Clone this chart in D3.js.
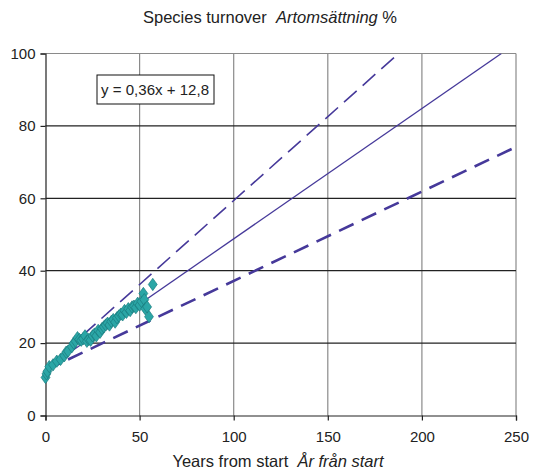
<!DOCTYPE html>
<html>
<head>
<meta charset="utf-8">
<script src="https://cdn.jsdelivr.net/npm/d3@7"></script>
<style>
  body { margin: 0; background: #fff; }
  text { font-family: "Liberation Sans", Arial, sans-serif; fill: #222; white-space: pre; }
</style>
</head>
<body>
<div id="chart"></div>
<script>
// observed points: years from start vs species turnover (%)
var years = [0, 0.5, 1, 2, 4, 6, 8, 10, 11, 12, 14, 15, 16, 17, 18, 19, 20, 21, 22, 23, 24, 25,
  26, 27, 28, 29, 30, 31, 32, 33, 34, 35, 36, 37, 38, 39, 40, 41, 42, 43, 44, 45, 46, 47, 48,
  49, 50, 51, 52, 52.5, 53, 54, 55, 57];
var turnover = [10.5, 11.5, 12.2, 13.5, 14, 15, 15.5, 16.5, 17.5, 17.8, 19, 20, 20.5, 21.5, 21, 20.8,
  21.2, 22, 20.5, 21, 20.8, 22, 22.5, 22, 23.5, 23, 24, 24.5, 25, 25.5, 25, 26, 26.5, 25.8, 27,
  27.5, 28, 27.8, 29, 28.5, 29.5, 29, 30, 30.2, 29.8, 31, 30.5, 31.5, 33.7, 32, 29.5, 30, 27.3, 36.2];

// linear trend y = 0,36x + 12,8
var slope = 0.36, intercept = 12.8;
// dashed envelope lines (end points)
var upperX = [0, 187.6], upperY = [13, 100];
var lowerX = [0, 250], lowerY = [12.5, 74.2];

var xTicks = [0, 50, 100, 150, 200, 250];
var yTicks = [0, 20, 40, 60, 80, 100];

var svgWidth = 541, svgHeight = 474;
var margin = { top: 53.5, right: 25, bottom: 58.5, left: 45.5 };
var width = svgWidth - margin.left - margin.right;
var height = svgHeight - margin.top - margin.bottom;

var svg = d3.select("#chart").append("svg")
  .attr("width", svgWidth)
  .attr("height", svgHeight);

var g = svg.append("g")
  .attr("transform", `translate(${margin.left}, ${margin.top})`);

var x = d3.scaleLinear().domain([0, 250]).range([0, width]);
var y = d3.scaleLinear().domain([0, 100]).range([height, 0]);

g.append("clipPath").attr("id", "plot")
  .append("rect").attr("width", width).attr("height", height);

// grid
g.selectAll("line.vgrid").data(xTicks.slice(1)).enter().append("line")
  .attr("x1", d => x(d)).attr("x2", d => x(d))
  .attr("y1", 0).attr("y2", height)
  .attr("stroke", "#8a8a8a").attr("stroke-width", 1.2);

g.selectAll("line.hgrid").data(yTicks.slice(1, -1)).enter().append("line")
  .attr("x1", 0).attr("x2", width)
  .attr("y1", d => y(d)).attr("y2", d => y(d))
  .attr("stroke", "#222").attr("stroke-width", 1.2);

// top border
g.append("line").attr("x1", 0).attr("x2", width).attr("y1", 0).attr("y2", 0)
  .attr("stroke", "#8a8a8a").attr("stroke-width", 1.2);

// axes
var xAxis = g.append("g")
  .attr("transform", `translate(0, ${height})`)
  .call(d3.axisBottom(x).tickValues(xTicks).tickSize(5).tickPadding(11));
var yAxis = g.append("g")
  .call(d3.axisLeft(y).tickValues(yTicks).tickSize(5).tickPadding(5));

[xAxis, yAxis].forEach(function(a) {
  a.select(".domain").attr("stroke", "#222").attr("stroke-width", 1.2);
  a.selectAll(".tick line").attr("stroke", "#222").attr("stroke-width", 1.2);
  a.selectAll(".tick text").style("font-size", "15px")
    .style("font-family", "Liberation Sans, Arial, sans-serif").attr("fill", "#222");
});

var lineColor = "#46399a";
var line = d3.line().x(d => x(d[0])).y(d => y(d[1]));
var lines = g.append("g").attr("clip-path", "url(#plot)");

lines.append("path")
  .attr("d", line(d3.zip(upperX, upperY)))
  .attr("fill", "none").attr("stroke", lineColor)
  .attr("stroke-width", 1.6).attr("stroke-dasharray", "17,8");

lines.append("path")
  .attr("d", line(d3.zip(lowerX, lowerY)))
  .attr("fill", "none").attr("stroke", lineColor)
  .attr("stroke-width", 2.6).attr("stroke-dasharray", "16,9");

var trendEnd = (100 - intercept) / slope;
lines.append("path")
  .attr("d", line([[0, intercept], [trendEnd, slope * trendEnd + intercept]]))
  .attr("fill", "none").attr("stroke", lineColor).attr("stroke-width", 1.3);

// points
var diamond = d3.symbol().type(d3.symbolDiamond).size(44);
g.selectAll("path.pt").data(d3.zip(years, turnover)).enter().append("path")
  .attr("class", "pt")
  .attr("d", diamond)
  .attr("transform", d => `translate(${x(d[0])}, ${y(d[1])}) scale(1.25, 1)`)
  .attr("fill", "#2ba6a6")
  .attr("stroke", "#197a7e")
  .attr("stroke-width", 0.6);

// equation box
var box = g.append("g").attr("transform", "translate(51.5, 21.5)");
box.append("rect").attr("width", 117).attr("height", 29)
  .attr("fill", "#fff").attr("stroke", "#111").attr("stroke-width", 1);
box.append("text").attr("x", 4).attr("y", 20)
  .attr("textLength", 108).attr("lengthAdjust", "spacingAndGlyphs")
  .style("font-size", "15px").text("y = 0,36x + 12,8");

// title
var title = svg.append("text")
  .attr("x", 270).attr("y", 23)
  .attr("text-anchor", "middle").style("font-size", "16.5px");
title.append("tspan").text("Species turnover  ");
title.append("tspan").style("font-style", "italic").text("Artomsättning");
title.append("tspan").text(" %");

var xlab = svg.append("text")
  .attr("x", 278).attr("y", 467)
  .attr("text-anchor", "middle").style("font-size", "16.5px");
xlab.append("tspan").text("Years from start  ");
xlab.append("tspan").style("font-style", "italic").text("År från start");
</script>
</body>
</html>
